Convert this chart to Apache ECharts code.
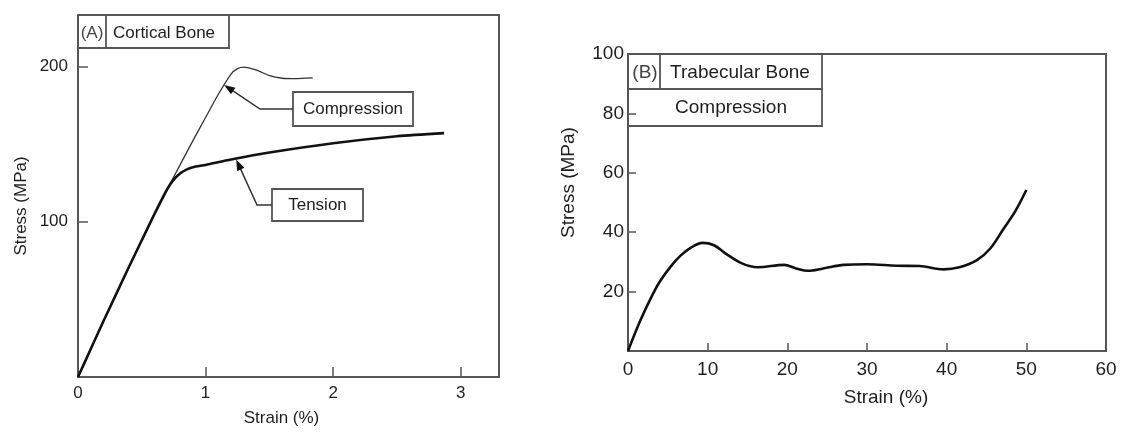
<!DOCTYPE html>
<html>
<head>
<meta charset="utf-8">
<script src="https://cdn.jsdelivr.net/npm/echarts@6/dist/echarts.min.js"></script>
<style>
html, body { margin: 0; padding: 0; background: #fff; }
#chart { width: 1123px; height: 432px; }
</style>
</head>
<body>
<div id="chart"></div>
<script>
// (A) cortical bone: strain (%) vs stress (MPa)
const tensionStrain = [0, 0.1, 0.2, 0.3, 0.4, 0.5, 0.6, 0.7, 0.75, 0.8, 0.85, 0.9, 1.0, 1.2, 1.5, 2.0, 2.5, 2.87];
const tensionStress = [0, 18, 36, 53.5, 71, 88, 105, 121, 127, 131, 133.5, 135, 136.5, 140, 144.5, 150.5, 155, 157];
const compStrain = [0, 0.1, 0.2, 0.3, 0.4, 0.5, 0.6, 0.7, 0.8, 0.9, 1.0, 1.1, 1.2, 1.25, 1.3, 1.4, 1.5, 1.6, 1.7, 1.84];
const compStress = [0, 18, 36, 53.5, 71, 88, 105, 121, 136.5, 152, 167, 182, 195, 198.5, 199.5, 197.5, 194, 192.3, 192, 192.5];

// (B) trabecular bone, compression
const trabStrain = [0, 1.6, 3.2, 4.1, 5.4, 6.6, 7.9, 9.35, 10.8, 12.2, 14.3, 16.3, 19.6, 21.1, 22.6, 24.5, 27.1, 30, 33.7, 36.6, 39.6, 41.6, 43.8, 45.5, 47.1, 48.6, 50];
const trabStress = [0, 10.6, 19.6, 23.8, 28.6, 32.1, 34.8, 36.4, 35.6, 32.9, 29.5, 28.2, 29, 27.8, 27, 27.8, 29, 29.2, 28.7, 28.6, 27.5, 28.2, 30.6, 34.6, 41, 47, 54.2];

// where the label arrows point (data coords)
const compArrowAt = [1.145, 188];
const tensArrowAt = [1.24, 140];

const FONT = '"Liberation Sans", Arial, Helvetica, sans-serif';
const INK = '#1e1e1e';
const LINE = '#555';

function pairs(xs, ys) {
    return xs.map(function (x, i) { return [x, ys[i]]; });
}

function axisBase(extra) {
    return Object.assign({
        type: 'value',
        axisLine: { show: true, lineStyle: { color: LINE, width: 2 } },
        axisTick: { show: true, inside: true, length: 10, lineStyle: { color: LINE, width: 1.5 } },
        splitLine: { show: false },
        nameLocation: 'middle'
    }, extra);
}
function txt(size, more) {
    return Object.assign({ color: INK, fontSize: size, fontFamily: FONT }, more);
}

let chart = echarts.init(document.getElementById('chart'));

let option = {
    backgroundColor: '#fff',
    animation: false,
    grid: [
        { left: 78, top: 15, width: 421, height: 369, show: true, borderColor: LINE, borderWidth: 2 },
        { left: 628, top: 54, width: 478, height: 297, show: true, borderColor: LINE, borderWidth: 2 }
    ],
    xAxis: [
        axisBase({
            gridIndex: 0, min: 0, max: 3.3, interval: 1,
            name: 'Strain (%)', nameGap: 33,
            nameTextStyle: txt(17, { padding: [0, 14, 0, 0] }),
            axisLabel: txt(17, {
                margin: 8,
                formatter: function (v) { return v % 1 === 0 ? String(v) : ''; }
            })
        }),
        axisBase({
            gridIndex: 1, min: 0, max: 60, interval: 10,
            name: 'Strain (%)', nameGap: 37,
            axisTick: { show: true, inside: true, length: 8, lineStyle: { color: LINE, width: 1.5 } },
            nameTextStyle: txt(19, { padding: [0, 0, 0, 38] }),
            axisLabel: txt(19, { margin: 9 })
        })
    ],
    yAxis: [
        axisBase({
            gridIndex: 0, min: 0, max: 233, interval: 100,
            name: 'Stress (MPa)', nameGap: 48,
            nameTextStyle: txt(17, { padding: [0, 20, 0, 0] }),
            axisLabel: txt(17, {
                margin: 10,
                formatter: function (v) { return (v > 0 && v % 100 === 0) ? String(v) : ''; }
            })
        }),
        axisBase({
            gridIndex: 1, min: 0, max: 100, interval: 20,
            name: 'Stress (MPa)', nameGap: 50,
            axisTick: { show: true, inside: true, length: 8, lineStyle: { color: LINE, width: 1.5 } },
            nameTextStyle: txt(19, { padding: [0, 0, 0, 40] }),
            axisLabel: txt(19, {
                margin: 4,
                formatter: function (v) { return v > 0 ? String(v) : ''; }
            })
        })
    ],
    series: [
        {
            name: 'Compression', type: 'line', xAxisIndex: 0, yAxisIndex: 0,
            data: pairs(compStrain, compStress), smooth: 0.25, showSymbol: false,
            lineStyle: { color: '#333', width: 1.3 }
        },
        {
            name: 'Tension', type: 'line', xAxisIndex: 0, yAxisIndex: 0,
            data: pairs(tensionStrain, tensionStress), smooth: 0.25, showSymbol: false,
            lineStyle: { color: '#111', width: 2.6 }
        },
        {
            name: 'Trabecular', type: 'line', xAxisIndex: 1, yAxisIndex: 1,
            data: pairs(trabStrain, trabStress), smooth: 0.35, showSymbol: false,
            lineStyle: { color: '#111', width: 2.6 }
        }
    ]
};

chart.setOption(option);

// label boxes and arrows
function box(x, y, w, h) {
    return {
        type: 'rect', shape: { x: x, y: y, width: w, height: h },
        style: { fill: 'rgba(0,0,0,0)', stroke: LINE, lineWidth: 1.8 }, z: 10
    };
}
function seg(x1, y1, x2, y2) {
    return {
        type: 'line', shape: { x1: x1, y1: y1, x2: x2, y2: y2 },
        style: { stroke: LINE, lineWidth: 1.8 }, z: 10
    };
}
function label(text, x, y, size, align, color) {
    return {
        type: 'text', z: 11,
        style: {
            text: text, x: x, y: y, fill: color || INK,
            font: size + 'px ' + FONT, textAlign: align || 'center', textVerticalAlign: 'middle'
        }
    };
}
function arrow(start, elbow, tip) {
    let dx = tip[0] - elbow[0], dy = tip[1] - elbow[1];
    let n = Math.sqrt(dx * dx + dy * dy);
    let ux = dx / n, uy = dy / n;
    let len = 11, half = 4;
    let bx = tip[0] - ux * len, by = tip[1] - uy * len;
    return [
        {
            type: 'polyline', z: 10,
            shape: { points: [start, elbow, [bx + ux * 2, by + uy * 2]] },
            style: { stroke: '#333', lineWidth: 1.5, fill: null }
        },
        {
            type: 'polygon', z: 10,
            shape: { points: [tip, [bx - uy * half, by + ux * half], [bx + uy * half, by - ux * half]] },
            style: { fill: '#111' }
        }
    ];
}

let compTip = chart.convertToPixel({ gridIndex: 0 }, compArrowAt);
let tensTip = chart.convertToPixel({ gridIndex: 0 }, tensArrowAt);

let elements = [
    box(78, 15, 151, 33), seg(106, 15, 106, 48),
    label('(A)', 92, 33, 17, 'center', '#444'),
    label('Cortical Bone', 113, 33, 17, 'left'),
    box(293, 92, 120, 34), label('Compression', 353, 109, 17),
    box(272, 189, 91, 32), label('Tension', 317.5, 205, 17),
    box(628, 54, 194, 35), seg(660, 54, 660, 89),
    label('(B)', 645, 73, 19, 'center', '#444'),
    label('Trabecular Bone', 740, 73, 19),
    box(628, 89, 194, 37), label('Compression', 731, 108, 19)
];
elements = elements.concat(arrow([293, 109], [260, 109], compTip));
elements = elements.concat(arrow([272, 205], [257, 205], tensTip));

chart.setOption({ graphic: { elements: elements } });
</script>
</body>
</html>
